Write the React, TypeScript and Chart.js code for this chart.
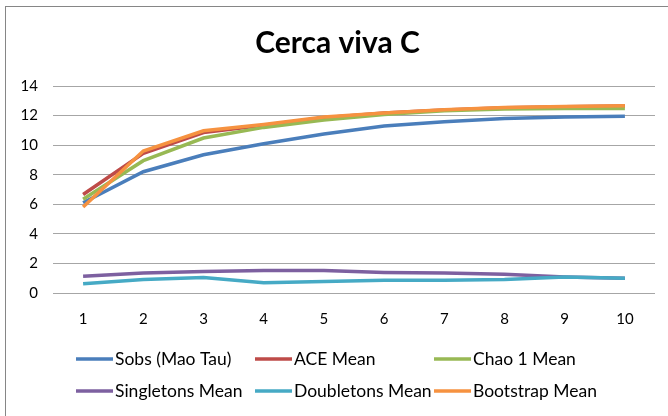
import React, { useEffect, useRef } from "react";
import { Chart, registerables } from "chart.js";

Chart.register(...registerables);

const categories = ["1", "2", "3", "4", "5", "6", "7", "8", "9", "10"];
const sobs = [6.1, 8.2, 9.35, 10.1, 10.75, 11.3, 11.58, 11.8, 11.91, 11.96];
const ace = [6.66, 9.45, 10.85, 11.35, 11.85, 12.17, 12.38, 12.53, 12.6, 12.64];
const chao1 = [6.34, 8.95, 10.48, 11.2, 11.7, 12.07, 12.33, 12.45, 12.47, 12.47];
const singletons = [1.13, 1.35, 1.46, 1.52, 1.52, 1.39, 1.35, 1.26, 1.09, 1.0];
const doubletons = [0.63, 0.91, 1.04, 0.7, 0.78, 0.87, 0.87, 0.91, 1.09, 1.0];
const bootstrap = [5.82, 9.6, 10.97, 11.4, 11.9, 12.18, 12.4, 12.55, 12.62, 12.67];

const seriesNames = [
  "Sobs (Mao Tau)",
  "ACE Mean",
  "Chao 1 Mean",
  "Singletons Mean",
  "Doubletons Mean",
  "Bootstrap Mean",
];
const seriesData = [sobs, ace, chao1, singletons, doubletons, bootstrap];
const seriesColors = ["#4A7EBB", "#BE4B48", "#98B954", "#7D60A0", "#46AAC5", "#F69240"];

const FONT = "Lato, 'Open Sans', sans-serif";

const gridLegend = {
  id: "gridLegend",
  afterDraw(chart: any) {
    const ctx = chart.ctx;
    const bottom = chart.chartArea.bottom;
    ctx.save();
    ctx.font = `17.5px ${FONT}`;
    ctx.textBaseline = "middle";
    ctx.textAlign = "left";
    seriesNames.forEach((name, i) => {
      const col = i % 3;
      const row = Math.floor(i / 3);
      const x = 76 + col * 179;
      const y = bottom + 66 + row * 32;
      ctx.strokeStyle = seriesColors[i];
      ctx.lineWidth = 3.5;
      ctx.lineCap = "butt";
      ctx.beginPath();
      ctx.moveTo(x, y);
      ctx.lineTo(x + 37, y);
      ctx.stroke();
      ctx.fillStyle = "#000";
      ctx.fillText(name, x + 39, y);
    });
    ctx.restore();
  },
};

export default function App() {
  const ref = useRef<HTMLCanvasElement>(null);
  useEffect(() => {
    if (!ref.current) return;
    const chart = new Chart(ref.current, {
      type: "line",
      data: {
        labels: categories,
        datasets: seriesNames.map((name, i) => ({
          label: name,
          data: seriesData[i],
          borderColor: seriesColors[i],
          backgroundColor: seriesColors[i],
          borderWidth: 3.5,
          pointRadius: 0,
          tension: 0,
          order: 5 - i,
        })),
      },
      options: {
        animation: false,
        responsive: false,
        maintainAspectRatio: false,
        layout: { padding: { left: 20, right: 13, top: 0, bottom: 71 } },
        plugins: {
          legend: { display: false },
          tooltip: { enabled: false },
          title: {
            display: true,
            text: "Cerca viva C",
            color: "#000",
            font: { family: FONT, size: 30, weight: "bold", lineHeight: 1.2 },
            padding: { top: 25, bottom: 25 },
          },
        },
        scales: {
          x: {
            offset: true,
            grid: { display: false, drawTicks: false },
            border: { display: false },
            ticks: { color: "#000", font: { family: FONT, size: 15 }, padding: 17, maxRotation: 0 },
          },
          y: {
            min: 0,
            max: 14,
            afterFit: (s: any) => {
              s.width = 33;
            },
            grid: { color: "#A6A6A6", lineWidth: 1, drawTicks: false },
            border: { display: false },
            ticks: { stepSize: 2, color: "#000", font: { family: FONT, size: 15 }, padding: 15 },
          },
        },
      },
      plugins: [gridLegend],
    });
    return () => chart.destroy();
  }, []);
  return (
    <div style={{ position: "fixed", left: 0, top: 0, width: 668, height: 416, background: "#fff", overflow: "hidden" }}>
      <div
        style={{
          position: "absolute",
          left: 5,
          top: 6,
          width: 700,
          height: 430,
          border: "1px solid #868686",
          boxSizing: "border-box",
        }}
      />
      <canvas ref={ref} width={668} height={416} style={{ position: "absolute", left: 0, top: 0 }} />
    </div>
  );
}
